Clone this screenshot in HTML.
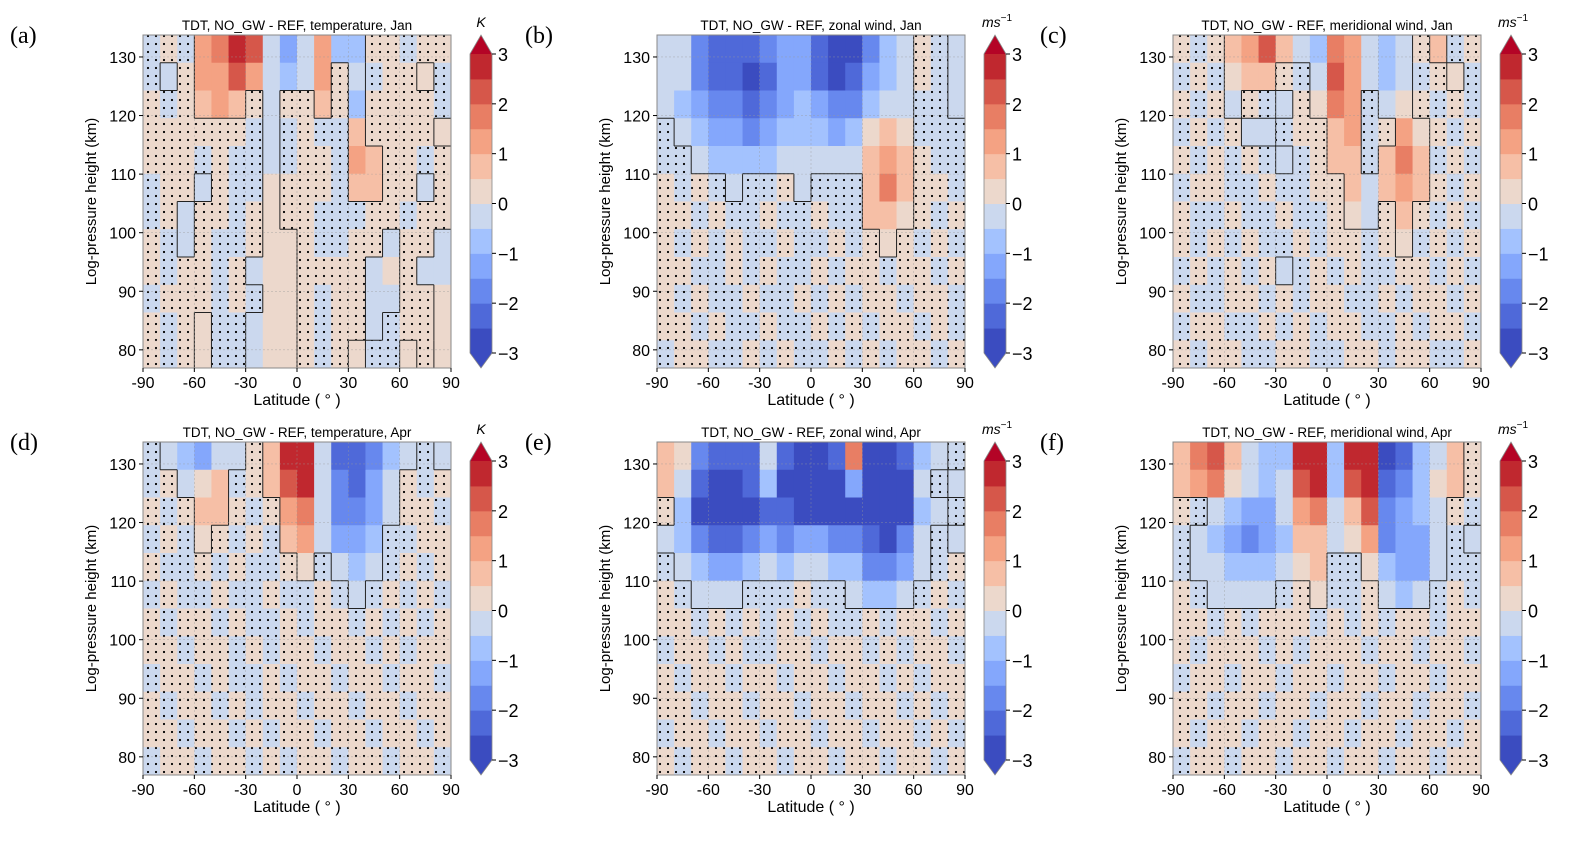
<!DOCTYPE html>
<html><head><meta charset="utf-8">
<style>
html,body{margin:0;padding:0;background:#fff;}
svg{display:block;font-family:"Liberation Sans",sans-serif;}
</style></head>
<body>
<svg id="fig" width="1584" height="841" viewBox="0 0 1584 841" xmlns="http://www.w3.org/2000/svg">
<defs>
<pattern id="dots" width="8" height="8" patternUnits="userSpaceOnUse">
<circle cx="4" cy="4" r="1.1" fill="#000"/>
</pattern>
</defs>
</svg>
<script>
// ---- data (12 height rows top->bottom, 18 latitude bins -90..90) ----
const latTicks=[-90,-60,-30,0,30,60,90];
const latTickLabels=["-90","-60","-30","0","30","60","90"];
const hTicks=[80,90,100,110,120,130];
const cbTicks=[3,2,1,0,-1,-2,-3];
const cbTickLabels=["3","2","1","0","\u22121","\u22122","\u22123"];
const levels=[-3,-2.5,-2,-1.5,-1,-0.5,0,0.5,1,1.5,2,2.5,3];
const levelColors=["#3b4cc0","#4f69d9","#6788ee","#84a7fc","#a3c2fe","#cbd8ee","#ecd8cc","#f6bfa6","#f4a283","#e87e64","#d6574a","#c0282f"];

const valsA=[
[-0.2,0.2,-0.2,1.2,1.8,2.6,2.2,-0.3,-1.5,-0.3,1.0,-0.8,-0.8,0.2,0.2,-0.2,0.2,0.2],
[-0.2,-0.3,0.2,1.0,1.2,2.0,1.2,-0.3,-0.6,-0.3,1.0,0.2,-0.5,-0.2,0.2,0.2,0.3,-0.2],
[0.2,-0.2,0.2,0.8,1.0,0.8,0.2,-0.3,0.2,0.2,0.6,0.2,-0.6,0.2,0.2,0.2,0.2,-0.2],
[0.2,0.2,0.2,0.2,0.2,0.2,-0.2,-0.3,-0.2,0.2,-0.2,-0.2,0.8,0.2,0.2,0.2,0.2,0.3],
[0.2,0.2,0.2,-0.2,0.2,-0.2,-0.2,-0.3,-0.2,0.2,0.2,-0.2,1.0,0.6,0.2,0.2,-0.2,0.2],
[-0.2,0.2,0.2,-0.3,0.2,-0.2,-0.2,0.3,0.2,0.2,0.2,-0.2,0.6,0.6,0.2,0.2,-0.3,0.2],
[-0.2,0.2,-0.3,0.2,0.2,-0.2,0.2,0.3,0.2,0.2,-0.2,-0.2,-0.2,0.2,0.2,-0.2,0.2,0.2],
[0.2,-0.2,-0.3,0.2,-0.2,-0.2,0.2,0.3,0.3,0.2,-0.2,-0.2,0.2,0.2,-0.3,0.2,0.2,-0.3],
[0.2,-0.2,0.2,0.2,-0.2,0.2,-0.3,0.3,0.3,0.2,0.2,0.2,0.2,-0.3,0.3,0.2,-0.3,-0.3],
[-0.2,0.2,0.2,0.2,-0.2,0.2,-0.2,0.3,0.3,0.2,-0.2,0.2,0.2,-0.3,-0.3,0.2,0.2,0.3],
[0.2,-0.2,0.2,0.3,-0.2,-0.2,-0.3,0.3,0.3,0.2,-0.2,0.2,0.2,-0.3,-0.2,0.2,0.2,0.3],
[0.2,-0.2,0.2,0.3,-0.2,-0.2,-0.3,0.3,0.3,0.2,-0.2,0.2,0.3,-0.2,-0.2,0.3,0.2,0.3]
];
const valsB=[
[-0.3,-0.3,-2.0,-2.3,-2.5,-2.5,-2.0,-1.5,-1.2,-2.5,-2.8,-2.6,-2.0,-0.7,-0.3,0.2,-0.2,-0.3],
[-0.3,-0.5,-1.8,-2.3,-2.5,-2.7,-2.3,-1.5,-1.3,-2.3,-2.8,-2.5,-1.5,-0.7,-0.3,0.2,-0.2,-0.3],
[-0.3,-0.6,-1.2,-1.8,-2.0,-2.2,-1.8,-1.2,-1.0,-1.5,-2.0,-1.8,-1.0,-0.5,-0.3,-0.2,-0.2,-0.3],
[-0.2,-0.5,-0.8,-1.2,-1.5,-1.8,-1.5,-1.0,-0.8,-1.0,-1.2,-1.0,0.3,0.8,0.3,-0.2,-0.2,-0.2],
[-0.2,-0.2,-0.5,-0.6,-0.8,-0.8,-0.6,-0.5,-0.5,-0.5,-0.5,-0.3,0.8,1.3,0.6,0.2,-0.2,-0.2],
[0.2,-0.2,0.2,-0.2,-0.3,-0.2,-0.2,0.2,-0.3,-0.2,-0.2,-0.2,0.8,1.5,0.8,0.2,0.2,-0.2],
[0.2,0.2,-0.2,0.2,-0.2,-0.2,0.2,-0.2,-0.2,0.2,-0.2,-0.2,0.5,0.8,0.3,0.2,-0.2,0.2],
[0.2,-0.2,0.2,-0.2,0.2,-0.2,-0.2,0.2,-0.2,-0.2,0.2,-0.2,0.2,0.3,0.2,-0.2,0.2,-0.2],
[0.2,0.2,-0.2,-0.2,0.2,-0.2,0.2,-0.2,-0.2,0.2,-0.2,0.2,0.2,-0.2,0.2,0.2,-0.2,0.2],
[0.2,-0.2,0.2,-0.2,-0.2,0.2,-0.2,-0.2,0.2,-0.2,0.2,-0.2,0.2,0.2,-0.2,0.2,0.2,-0.2],
[0.2,0.2,-0.2,0.2,-0.2,-0.2,0.2,-0.2,-0.2,0.2,-0.2,0.2,-0.2,0.2,0.2,-0.2,0.2,-0.2],
[-0.2,0.2,0.2,-0.2,-0.2,0.2,-0.2,0.2,-0.2,-0.2,0.2,-0.2,0.2,-0.2,0.2,0.2,-0.2,0.2]
];
const valsC=[
[0.2,-0.2,0.2,0.8,1.0,2.2,0.8,-0.3,-0.7,1.8,1.0,-0.5,-0.8,-0.5,0.2,0.8,-0.2,0.2],
[-0.2,0.2,-0.2,0.3,0.8,0.8,0.2,-0.2,-0.3,2.0,1.2,-0.3,-0.8,-0.3,-0.2,0.2,0.3,-0.2],
[0.2,-0.2,0.2,-0.3,0.2,-0.2,-0.5,0.2,0.3,1.5,1.0,-0.2,-0.5,0.3,0.2,-0.2,0.2,-0.2],
[-0.2,0.2,-0.2,0.2,-0.3,-0.5,-0.2,0.2,0.2,0.8,1.0,-0.2,0.2,1.0,0.3,0.2,-0.2,0.2],
[0.2,-0.2,0.2,-0.2,0.2,-0.2,-0.3,-0.2,0.2,0.5,0.8,-0.2,0.5,1.5,0.5,-0.2,0.2,-0.2],
[-0.2,0.2,0.2,-0.2,-0.2,0.2,-0.2,-0.2,0.2,0.2,0.5,-0.3,0.6,1.2,0.5,0.2,-0.2,0.2],
[0.2,-0.2,-0.2,0.2,-0.2,-0.2,0.2,-0.2,-0.2,0.2,0.3,-0.5,0.2,0.8,0.2,-0.2,0.2,-0.2],
[0.2,-0.2,0.2,-0.2,0.2,-0.2,-0.2,0.2,-0.2,0.2,0.2,-0.2,0.2,0.3,-0.2,0.2,-0.2,0.2],
[-0.2,0.2,-0.2,0.2,-0.2,0.2,-0.3,-0.2,0.2,-0.2,0.2,-0.2,-0.2,0.2,0.2,-0.2,0.2,-0.2],
[0.2,-0.2,-0.2,0.2,0.2,-0.2,0.2,-0.2,0.2,0.2,-0.2,-0.2,0.2,-0.2,0.2,0.2,-0.2,0.2],
[-0.2,0.2,0.2,-0.2,-0.2,0.2,-0.2,0.2,-0.2,0.2,0.2,-0.2,-0.2,0.2,-0.2,0.2,0.2,-0.2],
[0.2,-0.2,0.2,0.2,-0.2,-0.2,0.2,0.2,-0.2,-0.2,0.2,0.2,-0.2,0.2,0.2,-0.2,-0.2,0.2]
];
const valsD=[
[-0.2,-0.3,-0.8,-1.5,-0.5,-0.3,0.2,0.8,2.8,2.8,-0.5,-2.5,-2.5,-2.0,-0.8,-0.3,-0.2,-0.3],
[-0.2,0.2,-0.3,0.3,0.8,-0.2,0.2,0.8,2.2,2.6,-0.5,-2.0,-2.3,-1.5,-0.5,0.2,-0.2,0.2],
[0.2,-0.2,0.2,0.8,0.8,0.2,-0.2,0.2,1.2,1.5,-0.3,-1.8,-2.0,-1.2,-0.3,0.2,0.2,-0.2],
[-0.2,0.2,-0.2,0.3,0.2,-0.2,0.2,-0.2,0.8,1.0,-0.3,-1.2,-1.5,-0.6,-0.2,-0.2,0.2,0.2],
[0.2,-0.2,-0.2,0.2,-0.2,0.2,-0.2,-0.2,0.2,0.3,-0.2,-0.5,-0.6,-0.3,-0.2,0.2,-0.2,0.2],
[-0.2,0.2,-0.2,-0.2,0.2,-0.2,-0.2,0.2,-0.2,-0.2,0.2,-0.2,-0.3,-0.2,0.2,-0.2,0.2,-0.2],
[0.2,-0.2,0.2,0.2,-0.2,0.2,-0.2,-0.2,0.2,-0.2,0.2,0.2,-0.2,0.2,-0.2,0.2,-0.2,0.2],
[0.2,0.2,-0.2,0.2,0.2,-0.2,0.2,-0.2,0.2,0.2,-0.2,0.2,0.2,-0.2,0.2,-0.2,0.2,0.2],
[-0.2,0.2,0.2,-0.2,0.2,-0.2,-0.2,0.2,-0.2,0.2,0.2,-0.2,0.2,0.2,-0.2,0.2,0.2,-0.2],
[0.2,-0.2,0.2,0.2,-0.2,0.2,-0.2,0.2,0.2,-0.2,0.2,0.2,-0.2,0.2,0.2,-0.2,0.2,0.2],
[0.2,0.2,-0.2,0.2,0.2,-0.2,0.2,-0.2,0.2,0.2,-0.2,0.2,0.2,-0.2,0.2,0.2,-0.2,0.2],
[-0.2,0.2,0.2,-0.2,0.2,0.2,-0.2,0.2,-0.2,0.2,0.2,-0.2,0.2,0.2,-0.2,0.2,0.2,-0.2]
];
const valsE=[
[0.8,0.3,-2.0,-2.5,-2.5,-2.3,-0.5,-2.5,-2.8,-2.8,-2.5,1.5,-2.6,-2.8,-2.5,-0.6,-0.3,-0.2],
[0.8,-0.3,-2.3,-2.8,-2.8,-2.5,-0.8,-2.6,-2.8,-2.8,-2.6,-1.5,-2.8,-2.8,-2.6,-0.5,-0.2,-0.3],
[0.2,-0.8,-2.8,-2.8,-2.8,-2.8,-2.5,-2.5,-2.6,-2.6,-2.6,-2.6,-2.8,-2.8,-2.6,-0.6,-0.3,-0.2],
[-0.3,-0.8,-2.0,-2.5,-2.4,-1.8,-1.5,-1.6,-1.5,-1.5,-1.6,-2.0,-2.4,-2.6,-2.0,-0.5,-0.2,-0.3],
[-0.2,-0.5,-0.8,-1.5,-1.2,-0.8,-0.5,-0.6,-0.5,-0.5,-0.6,-1.0,-1.8,-2.0,-1.2,-0.3,-0.2,0.2],
[0.2,-0.2,-0.3,-0.5,-0.3,-0.2,-0.2,-0.2,0.2,-0.2,-0.2,-0.5,-0.8,-0.8,-0.5,-0.2,0.2,-0.2],
[0.2,0.2,-0.2,0.2,-0.2,0.2,-0.2,0.2,-0.2,0.2,-0.2,-0.2,0.2,-0.2,0.2,0.2,-0.2,0.2],
[-0.2,0.2,0.2,-0.2,0.2,-0.2,-0.2,0.2,0.2,-0.2,0.2,0.2,-0.2,0.2,-0.2,0.2,0.2,-0.2],
[0.2,-0.2,0.2,0.2,-0.2,0.2,0.2,-0.2,0.2,0.2,-0.2,0.2,0.2,-0.2,0.2,-0.2,0.2,0.2],
[0.2,0.2,-0.2,0.2,0.2,-0.2,0.2,0.2,-0.2,0.2,0.2,-0.2,0.2,0.2,-0.2,0.2,-0.2,0.2],
[-0.2,0.2,0.2,-0.2,0.2,0.2,-0.2,0.2,0.2,-0.2,0.2,0.2,-0.2,0.2,0.2,-0.2,0.2,-0.2],
[0.2,-0.2,0.2,0.2,-0.2,0.2,0.2,-0.2,0.2,0.2,-0.2,0.2,0.2,-0.2,0.2,0.2,-0.2,0.2]
];
const valsF=[
[0.8,1.8,2.0,0.6,-0.3,-0.8,-1.0,2.6,2.8,-0.8,2.6,2.8,-2.6,-2.2,-0.8,-0.3,0.6,0.2],
[0.6,1.2,1.5,0.3,-0.5,-1.0,-0.5,2.0,2.5,-0.8,2.0,2.8,-2.4,-2.0,-0.6,0.3,0.6,0.2],
[0.2,-0.2,-0.5,-1.0,-1.5,-1.2,-0.3,1.0,1.5,-0.5,0.8,2.0,-2.0,-1.5,-0.8,-0.3,0.2,-0.2],
[-0.2,-0.5,-0.8,-1.5,-2.0,-1.5,-0.8,0.5,0.8,-0.3,0.3,1.0,-1.8,-1.5,-1.2,-0.5,-0.2,-0.3],
[-0.2,-0.3,-0.5,-0.8,-1.0,-0.8,-0.5,0.3,0.5,-0.2,-0.2,0.3,-1.0,-1.2,-1.5,-0.5,-0.2,-0.2],
[0.2,-0.2,-0.3,-0.5,-0.3,-0.5,-0.2,0.2,0.3,-0.2,-0.2,0.2,-0.5,-0.8,-0.5,-0.2,0.2,-0.2],
[0.2,0.2,-0.2,0.2,-0.2,0.2,0.2,0.2,-0.2,0.2,-0.2,0.2,-0.2,0.2,0.2,-0.2,0.2,0.2],
[0.2,-0.2,0.2,0.2,0.2,-0.2,0.2,-0.2,0.2,0.2,0.2,-0.2,0.2,0.2,-0.2,0.2,0.2,-0.2],
[-0.2,0.2,0.2,-0.2,0.2,0.2,-0.2,0.2,0.2,-0.2,0.2,0.2,-0.2,0.2,0.2,-0.2,0.2,0.2],
[0.2,0.2,-0.2,0.2,0.2,-0.2,0.2,0.2,-0.2,0.2,0.2,-0.2,0.2,0.2,-0.2,0.2,0.2,-0.2],
[0.2,-0.2,0.2,0.2,-0.2,0.2,0.2,-0.2,0.2,0.2,-0.2,0.2,0.2,-0.2,0.2,0.2,-0.2,0.2],
[-0.2,0.2,0.2,-0.2,0.2,0.2,-0.2,0.2,0.2,-0.2,0.2,0.2,-0.2,0.2,0.2,-0.2,0.2,0.2]
];

const NS="http://www.w3.org/2000/svg";
const svg=document.getElementById('fig');
function mk(tag,attrs,parent){const e=document.createElementNS(NS,tag);for(const k in attrs)e.setAttribute(k,attrs[k]);(parent||svg).appendChild(e);return e;}
function colorFor(v){for(let i=0;i<levelColors.length;i++){if(v<levels[i+1])return levelColors[i];}return levelColors[levelColors.length-1];}

const latMin=-90,latMax=90,hTop=133.75,hBot=76.9;
const panels=[
 {lab:"(a)",vals:valsA,title:"TDT, NO_GW - REF,  temperature, Jan",unit:"K",sup:"",col:0,row:0},
 {lab:"(b)",vals:valsB,title:"TDT, NO_GW - REF,  zonal wind, Jan",unit:"ms",sup:"\u22121",col:1,row:0},
 {lab:"(c)",vals:valsC,title:"TDT, NO_GW - REF, meridional wind, Jan",unit:"ms",sup:"\u22121",col:2,row:0},
 {lab:"(d)",vals:valsD,title:"TDT, NO_GW - REF,  temperature, Apr",unit:"K",sup:"",col:0,row:1},
 {lab:"(e)",vals:valsE,title:"TDT, NO_GW - REF,  zonal wind, Apr",unit:"ms",sup:"\u22121",col:1,row:1},
 {lab:"(f)",vals:valsF,title:"TDT, NO_GW - REF, meridional wind, Apr",unit:"ms",sup:"\u22121",col:2,row:1}
];

panels.forEach(p=>{
 const L=143+514*p.col+(p.col==2?2:0), R=L+308, T=35+407*p.row, B=368+407*p.row;
 const x=lat=>L+(lat-latMin)/(latMax-latMin)*(R-L);
 const y=h=>T+(hTop-h)/(hTop-hBot)*(B-T);
 const g=mk('g',{});
 
 
 const nr=p.vals.length,nc=p.vals[0].length;
 const dlat=(latMax-latMin)/nc, dh=(hTop-hBot)/nr;
 const cells=mk('g',{},g);
 
 
 const stip=(r,c)=>r>=0&&r<nr&&c>=0&&c<nc&&Math.abs(p.vals[r][c])<0.25;
 for(let r=0;r<nr;r++)for(let c=0;c<nc;c++){
  const v=p.vals[r][c];
  const x0=x(latMin+c*dlat),x1=x(latMin+(c+1)*dlat),y0=y(hTop-r*dh),y1=y(hTop-(r+1)*dh);
  const rc=mk('rect',{x:x0,y:y0,width:x1-x0+0.5,height:y1-y0+0.5,fill:colorFor(v)},cells);
  
  
 }
 const st=mk('g',{},g);
 
 
 for(let r=0;r<nr;r++)for(let c=0;c<nc;c++){
  if(!stip(r,c))continue;
  const x0=x(latMin+c*dlat),x1=x(latMin+(c+1)*dlat),y0=y(hTop-r*dh),y1=y(hTop-(r+1)*dh);
  mk('rect',{x:x0,y:y0,width:x1-x0,height:y1-y0,fill:"url(#dots)"},st);
  const ln=(a,b,c2,d)=>mk('line',{x1:a,y1:b,x2:c2,y2:d,stroke:"#222","stroke-width":1},st);
  if(r>0&&!stip(r-1,c))ln(x0,y0,x1,y0);
  if(r<nr-1&&!stip(r+1,c))ln(x0,y1,x1,y1);
  if(c>0&&!stip(r,c-1))ln(x0,y0,x0,y1);
  if(c<nc-1&&!stip(r,c+1))ln(x1,y0,x1,y1);
 }
 latTicks.forEach(t=>mk('line',{x1:x(t),y1:T,x2:x(t),y2:B,stroke:"#999","stroke-width":0.6,"stroke-dasharray":"2,2",opacity:0.6},g));
 hTicks.forEach(t=>mk('line',{x1:L,y1:y(t),x2:R,y2:y(t),stroke:"#999","stroke-width":0.6,"stroke-dasharray":"2,2",opacity:0.6},g));
 mk('rect',{x:L,y:T,width:R-L,height:B-T,fill:"none",stroke:"#888","stroke-width":1},g);
 latTicks.forEach((t,i)=>{
  mk('line',{x1:x(t),y1:B,x2:x(t),y2:B+4,stroke:"#000"},g);
  const tx=mk('text',{x:x(t),y:B+20,"font-size":16,"text-anchor":"middle"},g);tx.textContent=latTickLabels[i];
  
  
 });
 hTicks.forEach(t=>{
  mk('line',{x1:L-4,y1:y(t),x2:L,y2:y(t),stroke:"#000"},g);
  const tx=mk('text',{x:L-7,y:y(t)+6,"font-size":16,"text-anchor":"end"},g);tx.textContent=t;
  
  
 });
 const xl=mk('text',{x:(L+R)/2,y:B+37,"font-size":16,"text-anchor":"middle"},g);xl.textContent="Latitude ( \u00b0 )";
 
 
 const yl=mk('text',{x:0,y:0,"font-size":15,"text-anchor":"middle",transform:`translate(${L-47},${(T+B)/2}) rotate(-90)`},g);yl.textContent="Log-pressure height (km)";
 
 
 const ti=mk('text',{x:(L+R)/2,y:T-5,"font-size":13.5,"text-anchor":"middle"},g);ti.textContent=p.title;
 
 
 const pl=mk('text',{x:10+515*p.col,y:T+8,"font-size":24,"font-family":"Liberation Serif, serif"},g);pl.textContent=p.lab;
 
 
 const cx=L+327, cw=22, cT=T+19, cB=B-15;
 const cbg=mk('g',{},g);
 
 
 const cy=v=>cB-(v-levels[0])/(levels[levels.length-1]-levels[0])*(cB-cT);
 for(let i=0;i<levelColors.length;i++){
  mk('rect',{x:cx,y:cy(levels[i+1]),width:cw,height:cy(levels[i])-cy(levels[i+1])+0.5,fill:levelColors[i]},cbg);
 }
 mk('polygon',{points:`${cx},${cT} ${cx+cw},${cT} ${cx+cw/2},${T}`,fill:"#b40426"},cbg);
 mk('polygon',{points:`${cx},${cB} ${cx+cw},${cB} ${cx+cw/2},${B}`,fill:"#3b4cc0"},cbg);
 mk('polygon',{points:`${cx},${cT} ${cx+cw/2},${T} ${cx+cw},${cT} ${cx+cw},${cB} ${cx+cw/2},${B} ${cx},${cB}`,fill:"none",stroke:"#888","stroke-width":0.8},cbg);
 cbTicks.forEach((t,i)=>{
  mk('line',{x1:cx+cw,y1:cy(t),x2:cx+cw+4,y2:cy(t),stroke:"#000"},cbg);
  const tx=mk('text',{x:cx+cw+6,y:cy(t)+7,"font-size":18},cbg);tx.textContent=cbTickLabels[i];
  
  
 });
 const un=mk('text',{x:cx+(p.sup?-2:cw/2),y:T-8,"font-size":14,"font-style":"italic","text-anchor":p.sup?"start":"middle"},cbg);
 un.textContent=p.unit;
 if(p.sup){const s=mk('tspan',{"font-size":10,dy:-6,"font-style":"normal"},un);s.textContent=p.sup;}
 
 
});
</script>
</body></html>
